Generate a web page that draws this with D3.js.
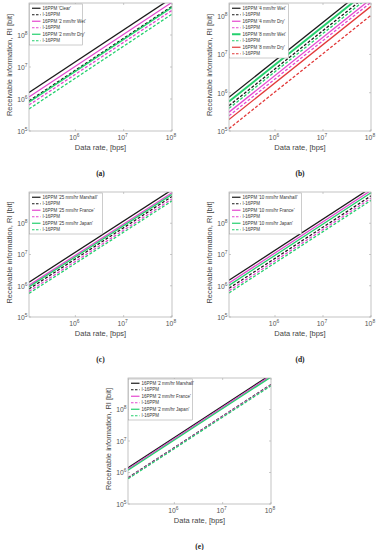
<!DOCTYPE html>
<html>
<head>
<meta charset="utf-8">
<script src="https://cdn.jsdelivr.net/npm/d3@7"></script>
<style>
  body { margin: 0; background: #fff; }
  text { font-family: "Liberation Sans", Arial, sans-serif; }
  .tick-label { fill: #555; font-size: 6.8px; }
  .axis-title { fill: #444; font-size: 7.5px; }
  .legend-text { fill: #333; font-size: 4.5px; }
  .panel-label { font-family: "Liberation Serif", "Times New Roman", serif; font-weight: bold; font-size: 7.5px; fill: #222; }
</style>
</head>
<body>
<script>
// x range shared by every panel, ticks
const xRange = [1.1e5, 1e8];
const xTicks = [1e6, 1e7, 1e8];
const yTicks = [1e5, 1e6, 1e7, 1e8];

// (a)
const aNames = ["16PPM 'Clear'", "I-16PPM", "16PPM '2 mm/hr Wet'", "I-16PPM", "16PPM '2 mm/hr Dry'", "I-16PPM"];
const aStart = [1.6e6, 8.7e5, 1.15e6, 6.5e5, 8.0e5, 4.9e5];
const aEnd   = [1.45e9, 7.9e8, 1.05e9, 5.9e8, 7.3e8, 4.5e8];

// (b)
const bNames = ["16PPM '4 mm/hr Wet'", "I-16PPM", "16PPM '4 mm/hr Dry'", "I-16PPM",
                "16PPM '8 mm/hr Wet'", "I-16PPM", "16PPM '8 mm/hr Dry'", "I-16PPM"];
const bStart = [7.6e5, 4.6e5, 3.1e5, 2.5e5, 5.9e5, 3.9e5, 2.0e5, 1.15e5];
const bEnd   = [6.9e8, 4.2e8, 2.8e8, 2.3e8, 5.4e8, 3.5e8, 1.8e8, 1.05e8];

// (c)
const cNames = ["16PPM '25 mm/hr Marshall'", "I-16PPM", "16PPM '25 mm/hr France'", "I-16PPM", "16PPM '25 mm/hr Japan'", "I-16PPM"];
const cStart = [1.3e6, 7.9e5, 1.03e6, 6.6e5, 9.2e5, 5.7e5];
const cEnd   = [1.18e9, 7.2e8, 9.4e8, 6.0e8, 8.4e8, 5.2e8];

// (d)
const dNames = ["16PPM '10 mm/hr Marshall'", "I-16PPM", "16PPM '10 mm/hr France'", "I-16PPM", "16PPM '10 mm/hr Japan'", "I-16PPM"];
const dStart = [1.5e6, 8.3e5, 1.23e6, 6.9e5, 1.03e6, 5.9e5];
const dEnd   = [1.36e9, 7.5e8, 1.12e9, 6.3e8, 9.4e8, 5.4e8];

// (e)
const eNames = ["16PPM '2 mm/hr Marshall'", "I-16PPM", "16PPM '2 mm/hr France'", "I-16PPM", "16PPM '2 mm/hr Japan'", "I-16PPM"];
const eStart = [1.42e6, 6.8e5, 1.3e6, 6.6e5, 1.18e6, 6.3e5];
const eEnd   = [1.29e9, 6.2e8, 1.18e9, 6.0e8, 1.07e9, 5.7e8];

// colours by pair (solid 16PPM + dashed I-16PPM)
const pal = ["#1a1a1a", "#e448cf", "#24d06e", "#e23a3a"];

const W = 379, H = 550;
const svg = d3.select("body").append("svg").attr("width", W).attr("height", H);

const panels = [
  {tag: "(a)", names: aNames, start: aStart, end: aEnd, yMax: 1e9,   x0: 29,  y0: 3,   x1: 172, y1: 131, legW: 53},
  {tag: "(b)", names: bNames, start: bStart, end: bEnd, yMax: 2.2e8, x0: 229, y0: 3,   x1: 371, y1: 131, legW: 59},
  {tag: "(c)", names: cNames, start: cStart, end: cEnd, yMax: 1e9,   x0: 29,  y0: 192, x1: 172, y1: 317, legW: 73},
  {tag: "(d)", names: dNames, start: dStart, end: dEnd, yMax: 1e9,   x0: 229, y0: 192, x1: 371, y1: 317, legW: 72},
  {tag: "(e)", names: eNames, start: eStart, end: eEnd, yMax: 1e9,   x0: 128, y0: 378, x1: 271, y1: 504, legW: 64}
];

panels.forEach((p, pi) => {
  const x = d3.scaleLog().domain(xRange).range([p.x0, p.x1]);
  const y = d3.scaleLog().domain([1e5, p.yMax]).range([p.y1, p.y0]);
  const g = svg.append("g");

  const clipId = "clip" + pi;
  g.append("clipPath").attr("id", clipId)
    .append("rect").attr("x", p.x0).attr("y", p.y0)
    .attr("width", p.x1 - p.x0).attr("height", p.y1 - p.y0);

  g.append("rect").attr("x", p.x0).attr("y", p.y0)
    .attr("width", p.x1 - p.x0).attr("height", p.y1 - p.y0)
    .attr("fill", "#fff");

  // ticks (inside, MATLAB style)
  const tk = g.append("g").attr("stroke", "#999").attr("stroke-width", 0.5);
  xTicks.forEach(t => {
    tk.append("line").attr("x1", x(t)).attr("x2", x(t)).attr("y1", p.y1).attr("y2", p.y1 - 2);
    tk.append("line").attr("x1", x(t)).attr("x2", x(t)).attr("y1", p.y0).attr("y2", p.y0 + 2);
  });
  yTicks.filter(t => t <= p.yMax).forEach(t => {
    tk.append("line").attr("x1", p.x0).attr("x2", p.x0 + 2).attr("y1", y(t)).attr("y2", y(t));
    tk.append("line").attr("x1", p.x1).attr("x2", p.x1 - 2).attr("y1", y(t)).attr("y2", y(t));
  });

  // series lines
  const line = d3.line().x(d => x(d[0])).y(d => y(d[1]));
  const lg = g.append("g").attr("clip-path", "url(#" + clipId + ")");
  p.names.forEach((n, i) => {
    const pair = Math.floor(i / 2), dashed = i % 2 === 1;
    const thick = (pi === 1 && i === 4) ? 2 : 1.3;
    lg.append("path")
      .datum([[xRange[0], p.start[i]], [xRange[1], p.end[i]]])
      .attr("d", line)
      .attr("fill", "none")
      .attr("stroke", pal[pair])
      .attr("stroke-width", thick)
      .attr("stroke-dasharray", dashed ? "3,1.8" : null);
  });

  // frame
  g.append("rect").attr("x", p.x0).attr("y", p.y0)
    .attr("width", p.x1 - p.x0).attr("height", p.y1 - p.y0)
    .attr("fill", "none").attr("stroke", "#aaa").attr("stroke-width", 0.7);

  // tick labels
  xTicks.forEach(t => {
    const tx = g.append("text").attr("class", "tick-label")
      .attr("x", x(t) - 1).attr("y", p.y1 + 9).attr("text-anchor", "middle");
    tx.append("tspan").text("10");
    tx.append("tspan").attr("dy", -3).attr("font-size", 4.9).text(Math.round(Math.log10(t)));
  });
  yTicks.filter(t => t <= p.yMax).forEach(t => {
    const tx = g.append("text").attr("class", "tick-label")
      .attr("x", p.x0 - 1.5).attr("y", y(t) + 2.8).attr("text-anchor", "end");
    tx.append("tspan").text("10");
    tx.append("tspan").attr("dy", -3).attr("font-size", 4.9).text(Math.round(Math.log10(t)));
  });

  // axis titles
  const cx = (p.x0 + p.x1) / 2;
  g.append("text").attr("class", "axis-title").attr("x", cx).attr("y", p.y1 + 19)
    .attr("text-anchor", "middle").text("Data rate, [bps]");
  g.append("text").attr("class", "axis-title")
    .attr("transform", "translate(" + (p.x0 - 17) + "," + ((p.y0 + p.y1) / 2 - 2) + ") rotate(-90)")
    .attr("text-anchor", "middle").text("Receivable information, RI [bit]");

  // panel label
  g.append("text").attr("class", "panel-label").attr("x", cx).attr("y", p.y1 + 45)
    .attr("text-anchor", "middle").text(p.tag);

  // legend
  const rowH = 6.5;
  const lx = p.x0 + 0.5, ly = p.y0 + 1;
  const leg = g.append("g");
  leg.append("rect").attr("x", lx).attr("y", ly)
    .attr("width", p.legW).attr("height", p.names.length * rowH + 2)
    .attr("fill", "#fff").attr("stroke", "#999").attr("stroke-width", 0.5);
  p.names.forEach((n, i) => {
    const pair = Math.floor(i / 2), dashed = i % 2 === 1;
    const ry = ly + 1 + rowH * (i + 0.5);
    leg.append("line").attr("x1", lx + 2.5).attr("x2", lx + 11).attr("y1", ry).attr("y2", ry)
      .attr("stroke", pal[pair]).attr("stroke-width", (pi === 1 && i === 4) ? 2 : 1.2)
      .attr("stroke-dasharray", dashed ? "2.5,1.5" : null);
    leg.append("text").attr("class", "legend-text").attr("x", lx + 13).attr("y", ry + 1.6).text(n);
  });
});
</script>
</body>
</html>
